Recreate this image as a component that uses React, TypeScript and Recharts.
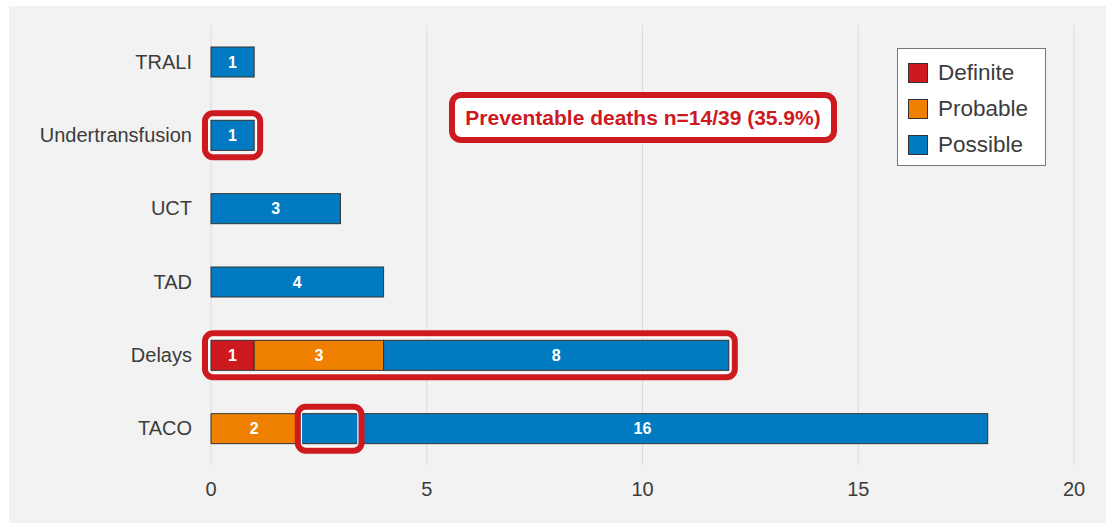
import React from "react";
import { BarChart, Bar, XAxis, YAxis, CartesianGrid, LabelList } from "recharts";

const categories = ["TRALI", "Undertransfusion", "UCT", "TAD", "Delays", "TACO"];
const definite = [0, 0, 0, 0, 1, 0];
const probable = [0, 0, 0, 0, 3, 2];
const possible = [1, 1, 3, 4, 8, 16];
const xTicks = [0, 5, 10, 15, 20];

// red boxes drawn round parts of bars (values in data units)
const highlights = [
  { category: "Undertransfusion", from: 0, to: 1 },
  { category: "Delays", from: 0, to: 12 },
  { category: "TACO", from: 2.15, to: 3.35 },
];

const series = [
  { key: "definite", name: "Definite", color: "#cc1a1f" },
  { key: "probable", name: "Probable", color: "#f08000" },
  { key: "possible", name: "Possible", color: "#007bc2" },
];

const nz = (v: number) => (v ? v : null);
const data = categories.map((c, i) => ({
  category: c,
  definite: nz(definite[i]),
  probable: nz(probable[i]),
  possible: nz(possible[i]),
}));

const FONT = '"Liberation Sans", Arial, Helvetica, sans-serif';
const RED = "#cc1a1f";

// eslint-disable-next-line @typescript-eslint/no-explicit-any
const PossibleShape = (props: any) => {
  const { x, y, width, height, payload, fill } = props;
  if (!width || !height) return null;
  const val = payload.possible;
  const ppu = width / val;
  const start = (payload.definite || 0) + (payload.probable || 0);
  const x0 = x - start * ppu;
  const hl = highlights.find((h) => h.category === payload.category);
  const padX = 6;
  const padY = 7;
  return (
    <g>
      <rect x={x} y={y} width={width} height={height} fill={fill} stroke="#333" strokeWidth={1} />
      {hl && (
        <>
          <rect
            x={x0 + hl.from * ppu - padX + 3.5}
            y={y - padY + 3.5}
            width={(hl.to - hl.from) * ppu + 2 * padX - 7}
            height={height + 2 * padY - 7}
            fill="none"
            stroke="#ffffff"
            strokeWidth={1.5}
            rx={4}
          />
          <rect
            x={x0 + hl.from * ppu - padX}
            y={y - padY}
            width={(hl.to - hl.from) * ppu + 2 * padX}
            height={height + 2 * padY}
            fill="none"
            stroke={RED}
            strokeWidth={6}
            rx={8}
          />
        </>
      )}
    </g>
  );
};

export default function App() {
  return (
    <div style={{ position: "absolute", left: 0, top: 0, width: 1110, height: 524, background: "#fff", fontFamily: FONT }}>
      <div style={{ position: "absolute", left: 9, top: 6, width: 1097, height: 517, background: "#f2f2f2" }} />
      <div style={{ position: "absolute", left: 0, top: 0 }}>
        <BarChart
          width={1110}
          height={524}
          data={data}
          layout="vertical"
          margin={{ top: 25, right: 36, bottom: 0, left: 0 }}
          barSize={30}
        >
          <CartesianGrid horizontal={false} stroke="#dcdcdc" />
          <XAxis
            type="number"
            domain={[0, 20]}
            ticks={xTicks}
            axisLine={false}
            tickLine={false}
            tickSize={0}
            tickMargin={17}
            height={59}
            tick={{ fill: "#3c3c3c", fontSize: 20, fontFamily: FONT }}
          />
          <YAxis
            type="category"
            dataKey="category"
            width={211}
            axisLine={false}
            tickLine={false}
            tickSize={0}
            tickMargin={19}
            tick={{ fill: "#3c3c3c", fontSize: 20, fontFamily: FONT }}
          />
          {series.map((s) => (
            <Bar
              key={s.key}
              dataKey={s.key}
              name={s.name}
              stackId="a"
              fill={s.color}
              stroke="#333"
              strokeWidth={1}
              isAnimationActive={false}
              shape={s.key === "possible" ? PossibleShape : undefined}
            >
              <LabelList
                dataKey={s.key}
                position="center"
                fill="#ffffff"
                fontSize={16}
                fontWeight="bold"
                fontFamily={FONT}
                formatter={(v: unknown) => (v ? String(v) : "")}
              />
            </Bar>
          ))}
        </BarChart>
      </div>
      <div
        style={{
          position: "absolute",
          left: 449,
          top: 92,
          width: 388,
          height: 51,
          boxSizing: "border-box",
          border: `6px solid ${RED}`,
          borderRadius: 12,
          background: "#fff",
          color: RED,
          fontWeight: "bold",
          fontSize: 21,
          display: "flex",
          alignItems: "center",
          justifyContent: "center",
        }}
      >
        Preventable deaths n=14/39 (35.9%)
      </div>
      <div
        style={{
          position: "absolute",
          left: 897,
          top: 48,
          width: 149,
          height: 118,
          boxSizing: "border-box",
          border: "1px solid #777",
          background: "#fff",
          padding: "6px 0 0 10px",
        }}
      >
        {series.map((s) => (
          <div key={s.key} style={{ display: "flex", alignItems: "center", height: 36 }}>
            <div style={{ width: 20, height: 20, boxSizing: "border-box", background: s.color, border: "1px solid #333" }} />
            <span style={{ marginLeft: 10, fontSize: 22.5, color: "#3c3c3c" }}>{s.name}</span>
          </div>
        ))}
      </div>
    </div>
  );
}
